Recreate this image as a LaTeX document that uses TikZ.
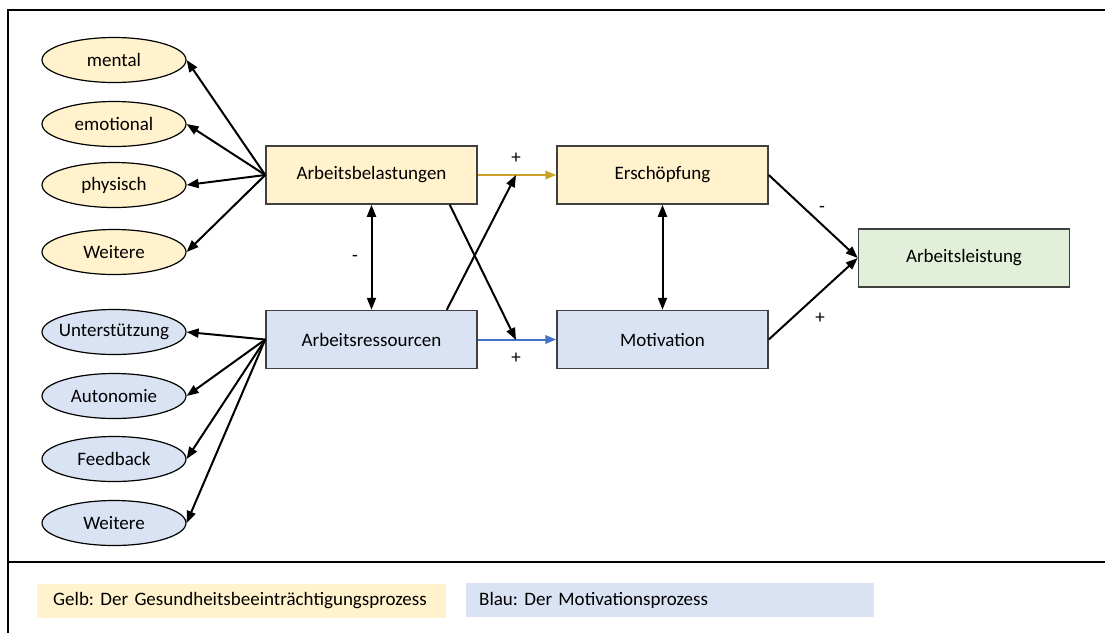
\documentclass[tikz,border=0pt]{standalone}
\usepackage{fontspec}
\setmainfont{Carlito}
\frenchspacing
\usetikzlibrary{shapes.geometric,arrows.meta,calc}
\definecolor{yfill}{HTML}{FFF2CC}
\definecolor{bfill}{HTML}{DAE3F3}
\definecolor{gfill}{HTML}{E2F0D9}
\definecolor{yarrow}{HTML}{C9A227}
\definecolor{barrow}{HTML}{4472C4}
\definecolor{boxline}{HTML}{404040}
\begin{document}
\begin{tikzpicture}[x=1pt,y=-1pt,
 box/.style={draw=boxline,line width=1.5pt,minimum width=211pt,minimum height=58pt,inner sep=0pt,font=\fontsize{19}{22}\selectfont},
 oval/.style={ellipse,draw=black,line width=1.2pt,minimum width=144pt,minimum height=45pt,inner sep=0pt,font=\fontsize{19}{22}\selectfont},
 arr/.style={line width=2pt,-{Triangle[length=12pt,width=9pt]}},
 carr/.style={line width=2pt,-{Triangle[length=11pt,width=8.5pt]}},
 darr/.style={line width=2pt,{Triangle[length=12pt,width=9pt]}-{Triangle[length=12pt,width=9pt]}},
 sign/.style={font=\fontsize{19}{22}\selectfont,inner sep=0pt},
 legend/.style={inner ysep=0pt,anchor=west,minimum height=34pt,align=left,font=\fontsize{19}{22}\selectfont}
]
\useasboundingbox (0,0) rectangle (1105,633);
\draw[line width=2.4pt] (8,633) -- (8,10) -- (1105,10);
\draw[line width=2.4pt] (8,562) -- (1105,562);

% main boxes
\node[box,fill=yfill] (ab) at (371.5,175) {Arbeitsbelastungen};
\node[box,fill=bfill] (ar) at (371.5,339.5) {Arbeitsressourcen};
\node[box,fill=yfill] (es) at (662.5,175) {Erschöpfung};
\node[box,fill=bfill] (mo) at (662.5,339.5) {Motivation};
\node[box,fill=gfill] (al) at (964,258) {Arbeitsleistung};

% ellipses
\node[oval,fill=yfill] (e1) at (114,60) {\makebox[0pt]{mental}};
\node[oval,fill=yfill] (e2) at (114,124) {\makebox[0pt]{emotional}};
\node[oval,fill=yfill] (e3) at (114,185) {\makebox[0pt]{physisch}};
\node[oval,fill=yfill] (e4) at (114,252) {\makebox[0pt]{Weitere}};
\node[oval,fill=bfill] (b1) at (114,332) {\makebox[0pt]{Unterstützung}};
\node[oval,fill=bfill] (b2) at (114,396) {\makebox[0pt]{Autonomie}};
\node[oval,fill=bfill] (b3) at (114,459) {\makebox[0pt]{Feedback}};
\node[oval,fill=bfill] (b4) at (114,523) {\makebox[0pt]{Weitere}};

\foreach \e in {e1,e2,e3,e4} \draw[arr] (ab.west) -- (\e.east);
\foreach \e in {b1,b2,b3,b4} \draw[arr] (ar.west) -- (\e.east);

% central connectors
\coordinate (py) at (516,175);
\coordinate (pb) at (516,340);
\draw[carr,yarrow] (ab.east) -- (es.west);
\draw[carr,barrow] (ar.east) -- (mo.west);
\draw[arr] ($(ab.south east)+(-28,0)$) -- (pb);
\draw[arr] ($(ar.north east)+(-31,0)$) -- (py);
\draw[darr] (ab.south) -- (ar.north);
\draw[darr] (es.south) -- (mo.north);
\draw[arr] (es.east) -- (al.west);
\draw[arr] (mo.east) -- (al.west);

% signs
\node[sign] (s1) at (516,158) {+};
\node[sign] (s2) at (516,358) {+};
\node[sign] (s3) at (355,258) {-};
\node[sign] (s4) at (822,209) {-};
\node[sign] (s5) at (820,318) {+};

% legend
\node[legend,fill=yfill,inner xsep=16pt,text width=377pt] (lg1) at (37,601) {Gelb: Der Gesundheitsbeeinträchtigungsprozess};
\node[legend,fill=bfill,inner xsep=13pt,text width=382pt] (lg2) at (466,600) {Blau: Der Motivationsprozess};
\end{tikzpicture}
\end{document}
